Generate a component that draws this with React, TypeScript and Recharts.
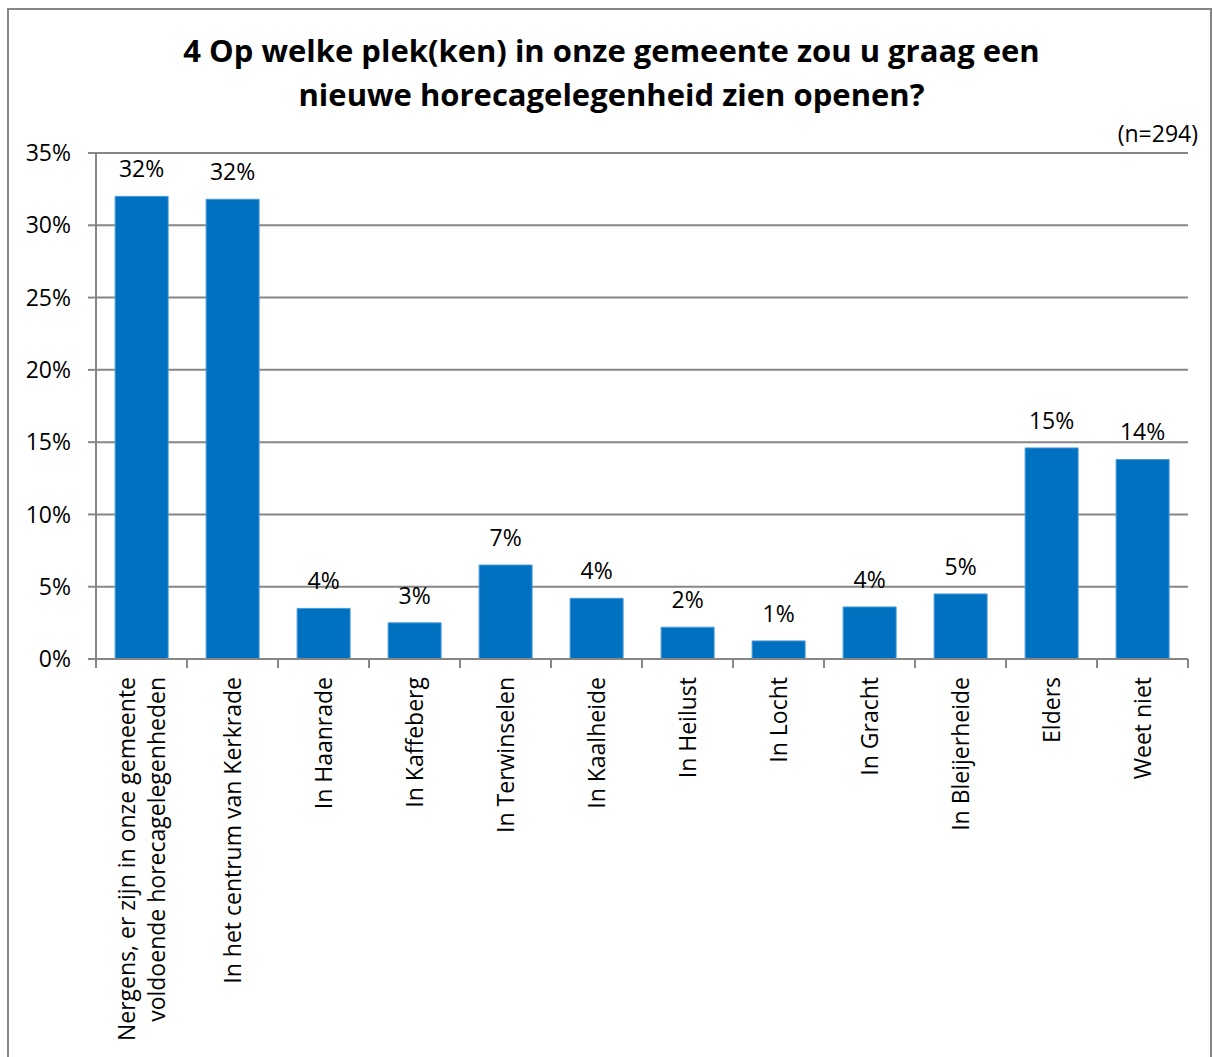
import React from 'react';
import { BarChart, Bar, XAxis, YAxis, CartesianGrid, LabelList } from 'recharts';

const categories = [
  'Nergens, er zijn in onze gemeente\nvoldoende horecagelegenheden',
  'In het centrum van Kerkrade',
  'In Haanrade',
  'In Kaffeberg',
  'In Terwinselen',
  'In Kaalheide',
  'In Heilust',
  'In Locht',
  'In Gracht',
  'In Bleijerheide',
  'Elders',
  'Weet niet',
];
const values = [32.0, 31.8, 3.5, 2.5, 6.5, 4.2, 2.2, 1.25, 3.6, 4.5, 14.6, 13.8];
const yTicks = [0, 5, 10, 15, 20, 25, 30, 35];

const data = categories.map((name, i) => ({ name, value: values[i] }));

const FONT = '"Open Sans", sans-serif';
const FS = 23;
const PLOT_LEFT = 96;
const PLOT_RIGHT = 1188;
const BAND = (PLOT_RIGHT - PLOT_LEFT) / categories.length;

const CategoryTick = (props: any) => {
  const { x, y, payload, index } = props;
  const lines = String(payload.value).split('\n');
  const lh = 30;
  return (
    <g>
      <line x1={x - BAND / 2} x2={x - BAND / 2} y1={y - 8} y2={y + 1} stroke="#868686" strokeWidth={2} />
      {index === categories.length - 1 && (
        <line x1={x + BAND / 2} x2={x + BAND / 2} y1={y - 8} y2={y + 1} stroke="#868686" strokeWidth={2} />
      )}
      <g transform={`translate(${x},${y + 10}) rotate(-90)`}>
        {lines.map((l, i) => (
          <text
            key={i}
            x={0}
            y={(i - (lines.length - 1) / 2) * lh}
            dy="0.35em"
            textAnchor="end"
            fontSize={FS}
            fontFamily={FONT}
            fill="#000"
          >
            {l}
          </text>
        ))}
      </g>
    </g>
  );
};

export default function App() {
  return (
    <div style={{ position: 'absolute', left: 0, top: 0, width: 1213, height: 1057, overflow: 'hidden', background: '#fff' }}>
      <div style={{ position: 'absolute', left: 7, top: 8, width: 1201, height: 1100, border: '2px solid #868686' }} />
      <div
        style={{
          position: 'absolute',
          left: 0,
          width: 1223,
          top: 28,
          textAlign: 'center',
          fontFamily: FONT,
          fontWeight: 'bold',
          fontSize: 31,
          lineHeight: '44px',
        }}
      >
        4 Op welke plek(ken) in onze gemeente zou u graag een
        <br />
        nieuwe horecagelegenheid zien openen?
      </div>
      <div style={{ position: 'absolute', right: 15, top: 117, fontFamily: FONT, fontSize: FS }}>(n=294)</div>
      <div style={{ position: 'absolute', left: 0, top: 0 }}>
        <BarChart
          width={1213}
          height={1057}
          data={data}
          margin={{ top: 153, right: 1213 - PLOT_RIGHT, bottom: 18, left: 16 }}
          barCategoryGap="21%"
        >
          <CartesianGrid vertical={false} stroke="#868686" strokeWidth={2} />
          <XAxis
            dataKey="name"
            interval={0}
            height={380}
            axisLine={{ stroke: '#868686', strokeWidth: 2 }}
            tickLine={false}
            tick={<CategoryTick />}
          />
          <YAxis
            width={80}
            domain={[0, 35]}
            ticks={yTicks}
            tickFormatter={(v: number) => `${v}%`}
            axisLine={{ stroke: '#868686', strokeWidth: 2 }}
            tickLine={{ stroke: '#868686', strokeWidth: 2 }}
            tickSize={8}
            tickMargin={17}
            tick={{ fontSize: FS, fontFamily: FONT, fill: '#000' }}
          />
          <Bar dataKey="value" fill="#0070C0" stroke="#4A9BD8" strokeWidth={1} isAnimationActive={false}>
            <LabelList
              dataKey="value"
              position="top"
              offset={19}
              formatter={(v: number) => `${Math.round(v)}%`}
              style={{ fontSize: FS, fontFamily: FONT, fill: '#000' }}
            />
          </Bar>
        </BarChart>
      </div>
    </div>
  );
}
